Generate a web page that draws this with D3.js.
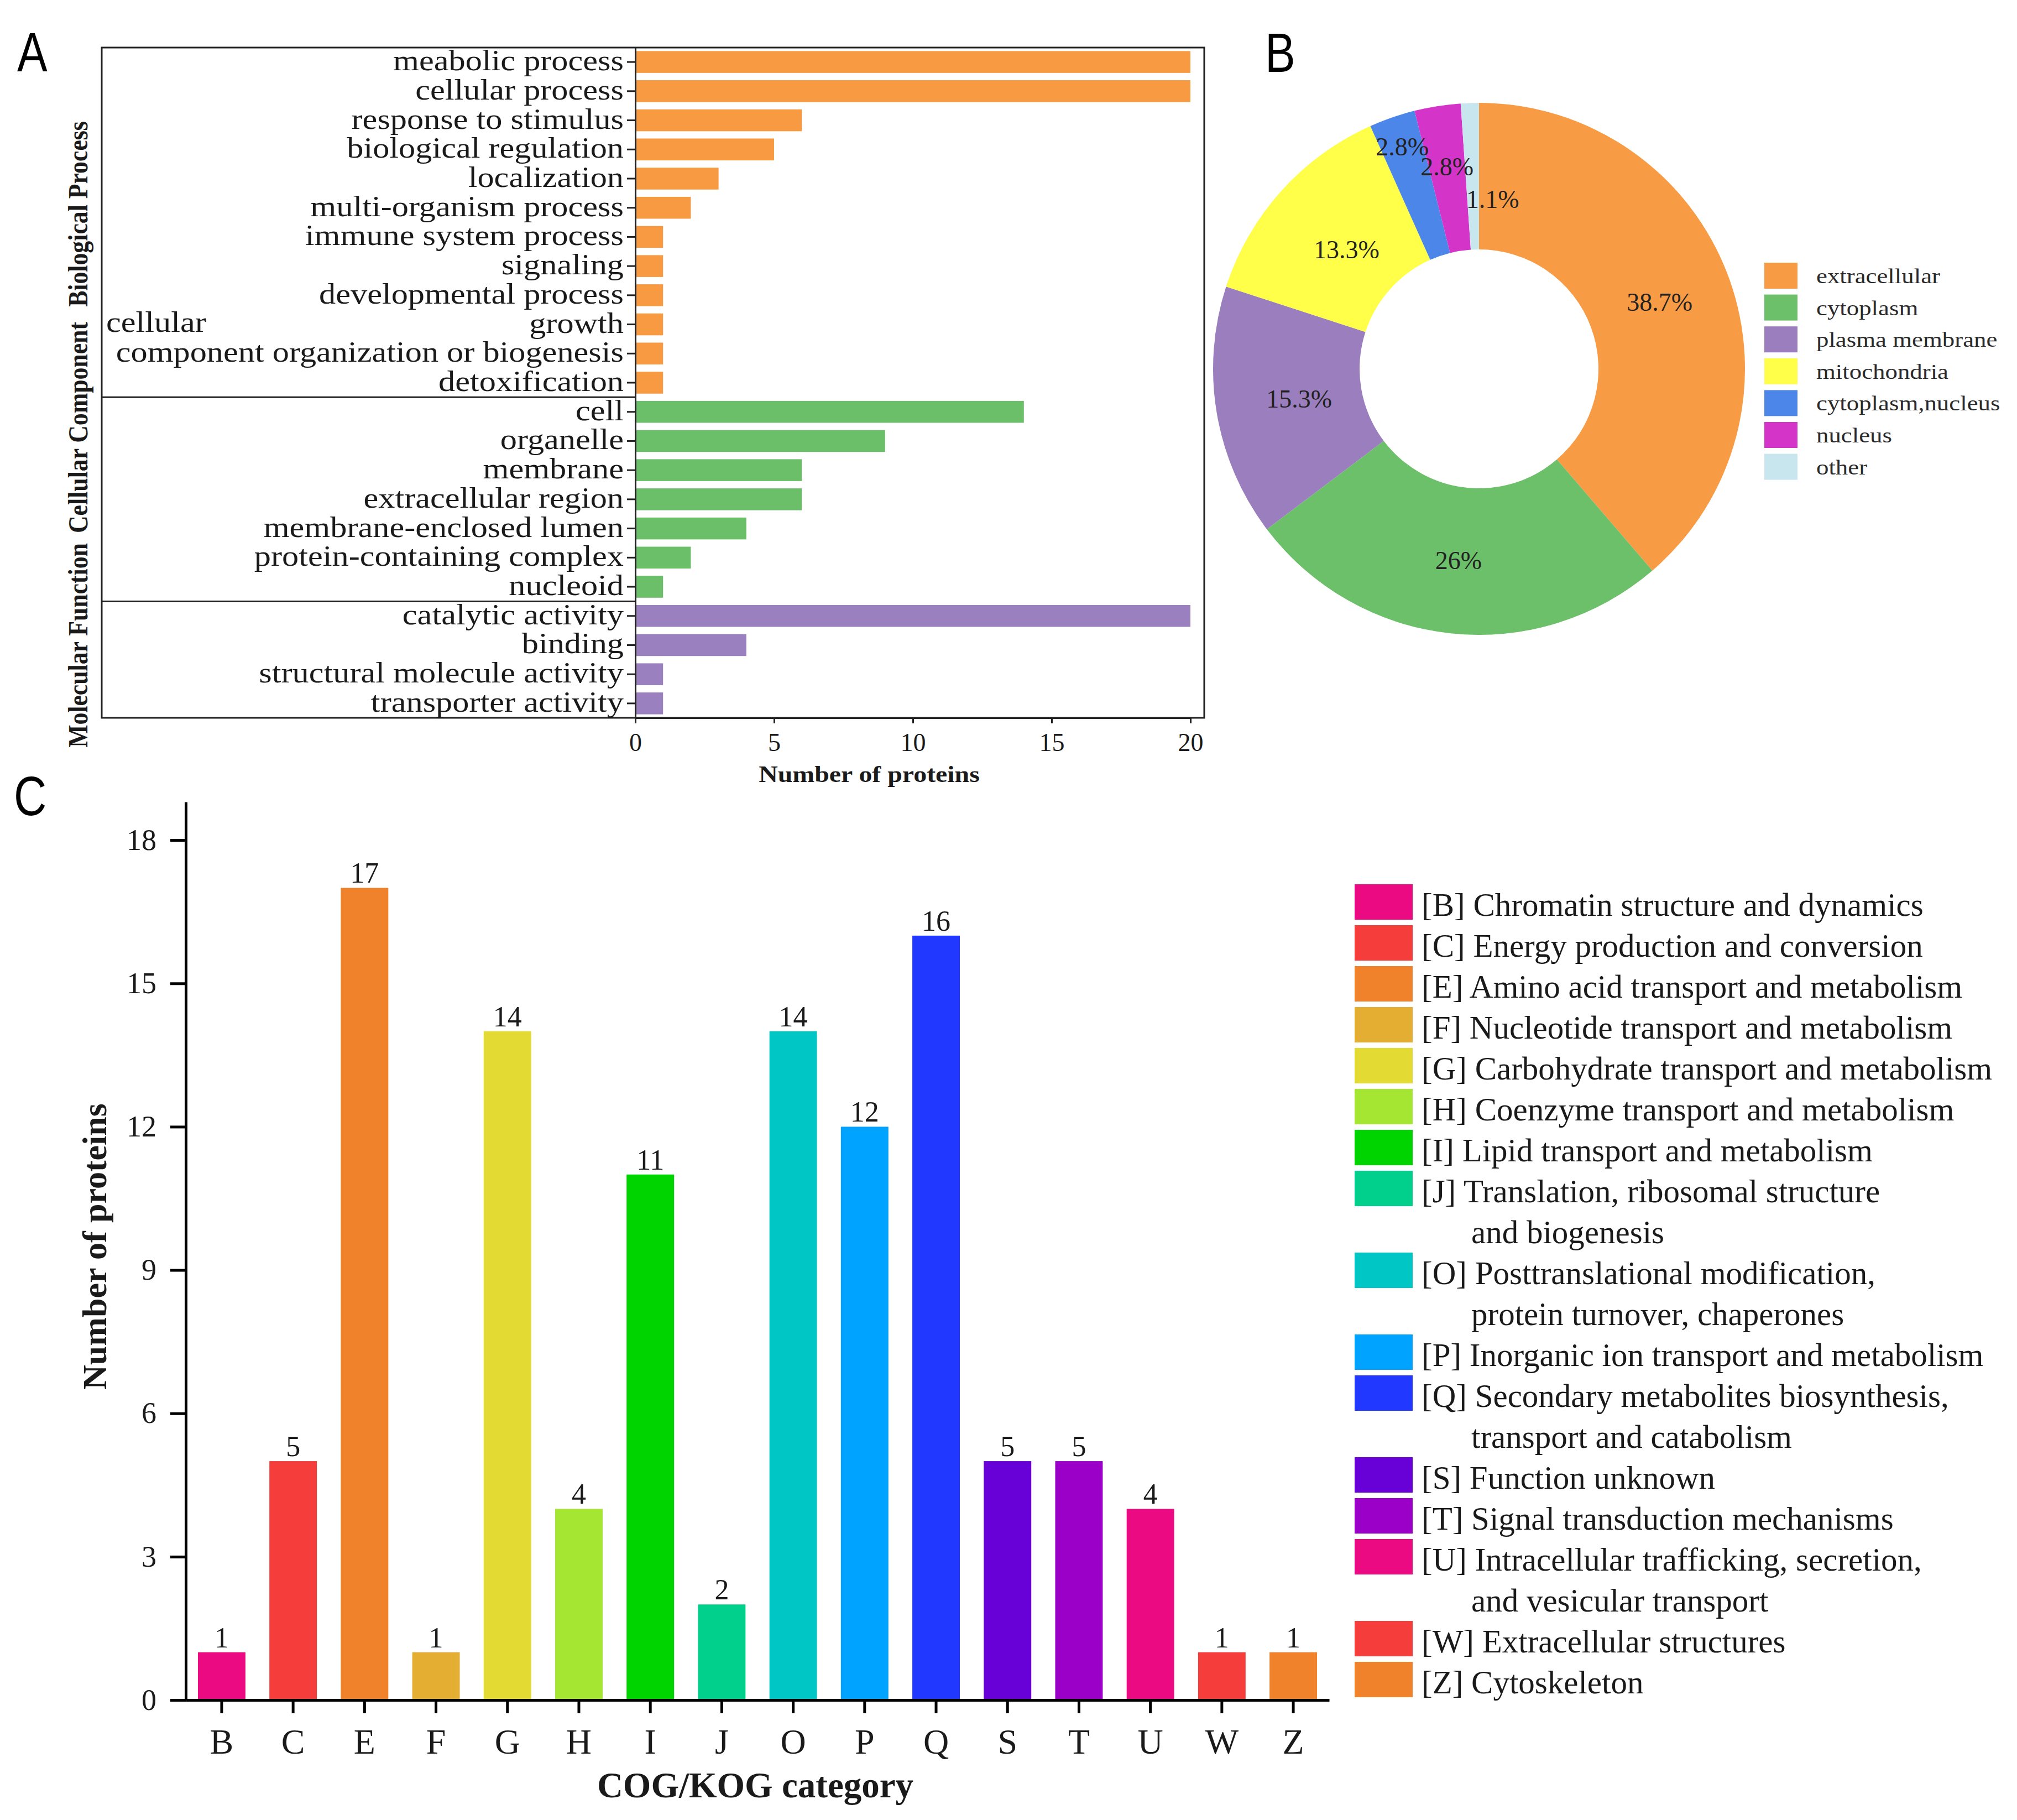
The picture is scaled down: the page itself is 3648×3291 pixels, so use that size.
<!DOCTYPE html>
<html><head><meta charset="utf-8">
<script src="https://cdn.jsdelivr.net/npm/d3@7"></script>
<style>html,body{margin:0;padding:0;background:#fff;} svg{display:block;}</style>
</head><body>
<svg id="chart" width="3648" height="3291"></svg>
<script>
// ---------- DATA ----------
const bpTerms = ["meabolic process","cellular process","response to stimulus","biological regulation","localization","multi-organism process","immune system process","signaling","developmental process","growth","cellular component organization or biogenesis","detoxification"];
const bpCounts = [20,20,6,5,3,2,1,1,1,1,1,1];
const ccTerms = ["cell","organelle","membrane","extracellular region","membrane-enclosed lumen","protein-containing complex","nucleoid"];
const ccCounts = [14,9,6,6,4,2,1];
const mfTerms = ["catalytic activity","binding","structural molecule activity","transporter activity"];
const mfCounts = [20,4,1,1];
const goGroupNames = ["Biological Process","Cellular Component","Molecular Function"];
const goXTicks = [0,5,10,15,20];

const locNames = ["extracellular","cytoplasm","plasma membrane","mitochondria","cytoplasm,nucleus","nucleus","other"];
const locPercents = [38.7,26,15.3,13.3,2.8,2.8,1.1];
const locLabels = ["38.7%","26%","15.3%","13.3%","2.8%","2.8%","1.1%"];

const cogCodes = ["B","C","E","F","G","H","I","J","O","P","Q","S","T","U","W","Z"];
const cogCounts = [1,5,17,1,14,4,11,2,14,12,16,5,5,4,1,1];
const cogNames = [
  ["[B] Chromatin structure and dynamics"],
  ["[C] Energy production and conversion"],
  ["[E] Amino acid transport and metabolism"],
  ["[F] Nucleotide transport and metabolism"],
  ["[G] Carbohydrate transport and metabolism"],
  ["[H] Coenzyme transport and metabolism"],
  ["[I] Lipid transport and metabolism"],
  ["[J] Translation, ribosomal structure","and biogenesis"],
  ["[O] Posttranslational modification,","protein turnover, chaperones"],
  ["[P] Inorganic ion transport and metabolism"],
  ["[Q] Secondary metabolites biosynthesis,","transport and catabolism"],
  ["[S] Function unknown"],
  ["[T] Signal transduction mechanisms"],
  ["[U] Intracellular trafficking, secretion,","and vesicular transport"],
  ["[W] Extracellular structures"],
  ["[Z] Cytoskeleton"]
];
const cogYTicks = [0,3,6,9,12,15,18];

// ---------- STYLES ----------
const goColors = ["#F89A42","#6BBF69","#9A80BF"];
const locColors = ["#F89B45","#6CC06A","#9B7EBE","#FFFF4A","#4C86E8","#D435C8","#C8E6EE"];
const cogColors = ["#EC0A82","#F53E3C","#EF822B","#E4AE33","#E4DA34","#A5E632","#00D400","#00D08C","#00C6C6","#00A3FF","#2038FF","#6800D8","#9A00C8","#EC0A82","#F53E3C","#EF822B"];
const SERIF = "'Liberation Serif','Times New Roman',serif";
const SANS = "'Liberation Sans',Arial,sans-serif";
const INK = "#1a1a1a";

// text drawn at (x,y), optionally rotated, horizontally scaled by k along its own direction
function sText(parent, x, y, str, k, rot){
  return parent.append("text")
    .attr("transform", `translate(${x},${y})` + (rot ? ` rotate(${rot})` : "") + ` scale(${k},1)`)
    .text(str);
}

const svg = d3.select("#chart");
svg.append("rect").attr("width",3648).attr("height",3291).attr("fill","#fff");

// ---------- panel letters ----------
const letters = svg.append("g").attr("font-family",SANS).attr("font-size",100).attr("fill","#000");
[["A",31,129],["B",2288,130],["C",25,1474]].forEach(([t,x,y])=>{ sText(letters,x,y,t,0.82); });

// ---------- PANEL A ----------
const goTerms = bpTerms.concat(ccTerms, mfTerms);
const goCounts = bpCounts.concat(ccCounts, mfCounts);
const goGroupIdx = bpTerms.map(()=>0).concat(ccTerms.map(()=>1), mfTerms.map(()=>2));
const A = {left:184, top:86, right:2178, bottom:1298, axisX:1149};
const xA = d3.scaleLinear().domain([0,20]).range([A.axisX, 2153]);
const yA = d3.scaleBand().domain(goTerms).range([A.top, A.bottom]).paddingInner(0.25).paddingOuter(0.12);
const gA = svg.append("g");

gA.selectAll("rect.bar").data(goTerms).join("rect").attr("class","bar")
  .attr("x", xA(0)).attr("y", d=>yA(d))
  .attr("width", (d,i)=>xA(goCounts[i])-xA(0)).attr("height", yA.bandwidth())
  .attr("fill", (d,i)=>goColors[goGroupIdx[i]]);

gA.append("rect").attr("x",A.left).attr("y",A.top).attr("width",A.right-A.left).attr("height",A.bottom-A.top)
  .attr("fill","none").attr("stroke","#222").attr("stroke-width",3);

const halfGap = yA.step()*yA.paddingInner()/2;
[ccTerms[0], mfTerms[0]].forEach(t=>{
  const y = yA(t) - halfGap;
  gA.append("line").attr("x1",A.left).attr("x2",A.axisX).attr("y1",y).attr("y2",y).attr("stroke","#222").attr("stroke-width",3);
});

const yAxA = gA.append("g").attr("transform",`translate(${A.axisX},0)`)
  .call(d3.axisLeft(yA).tickSize(15).tickSizeOuter(0).tickFormat(""));
yAxA.selectAll("path,line").attr("stroke","#222").attr("stroke-width",3);
yAxA.selectAll("text").remove();

const labA = gA.append("g").attr("font-family",SERIF).attr("font-size",52).attr("fill",INK);
goTerms.forEach(t=>{
  const cy = yA(t) + yA.bandwidth()/2;
  if (t === "cellular component organization or biogenesis"){
    sText(labA, A.left+8, cy-39, "cellular", 1.16);
    sText(labA, A.axisX-21, cy+15, "component organization or biogenesis", 1.16).attr("text-anchor","end");
  } else {
    sText(labA, A.axisX-21, cy+15, t, 1.16).attr("text-anchor","end");
  }
});

const xAxA = gA.append("g").attr("transform",`translate(0,${A.bottom})`)
  .call(d3.axisBottom(xA).tickValues(goXTicks).tickSize(10).tickSizeOuter(0).tickPadding(17));
xAxA.selectAll("path,line").attr("stroke","#222").attr("stroke-width",3);
xAxA.selectAll("text").attr("font-family",SERIF).attr("font-size",46).attr("fill",INK);

sText(gA, 1572, 1414, "Number of proteins", 1.14)
  .attr("text-anchor","middle").attr("font-family",SERIF).attr("font-weight","bold").attr("font-size",42).attr("fill",INK);

const groupCenters = [387, 773, 1167];
goGroupNames.forEach((n,i)=>{
  sText(gA, 158, groupCenters[i], n, 0.875, -90).attr("text-anchor","middle")
    .attr("font-family",SERIF).attr("font-weight","bold").attr("font-size",50).attr("fill",INK);
});

// ---------- PANEL B ----------
const B = {cx:2675, cy:667, r0:216, r1:481};
const gB = svg.append("g").attr("transform",`translate(${B.cx},${B.cy})`);
const pieData = d3.pie().sort(null).value(d=>d)(locPercents);
const arcB = d3.arc().innerRadius(B.r0).outerRadius(B.r1);
gB.selectAll("path").data(pieData).join("path").attr("d",arcB).attr("fill",(d,i)=>locColors[i]);

const labelRadius = {"plasma membrane":330, "mitochondria":322, "cytoplasm,nucleus":425, "nucleus":370, "other":308};
const labelAngleShift = {"other":0.115};
pieData.forEach((d,i)=>{
  const name = locNames[i];
  const r = labelRadius[name] || (B.r0+B.r1)/2;
  const a = (d.startAngle+d.endAngle)/2 + (labelAngleShift[name]||0);
  gB.append("text").attr("x", r*Math.sin(a)).attr("y", -r*Math.cos(a)).attr("dy","0.34em")
    .attr("text-anchor","middle").attr("font-family",SERIF).attr("font-size",46).attr("fill","#222")
    .text(locLabels[i]);
});

const legB = svg.append("g").attr("font-family",SERIF).attr("font-size",38).attr("fill","#2a2a2a");
const legBY = d3.scaleBand().domain(locNames).range([475, 475+57.6*locNames.length]).padding(0);
locNames.forEach((n,i)=>{
  const y = legBY(n);
  legB.append("rect").attr("x",3191).attr("y",y).attr("width",60).attr("height",47).attr("fill",locColors[i]);
  sText(legB, 3285, y+37, n, 1.18);
});

// ---------- PANEL C ----------
const C = {left:336, right:2404, base:3074, top:1450};
const xC = d3.scaleBand().domain(cogCodes).range([C.left, C.right]).paddingInner(0.335).paddingOuter(0.17);
const yC = d3.scaleLinear().domain([0,18.8]).range([C.base, C.top]);
const gC = svg.append("g");

gC.selectAll("rect.bar").data(cogCodes).join("rect").attr("class","bar")
  .attr("x", d=>xC(d)).attr("width", xC.bandwidth())
  .attr("y", (d,i)=>yC(cogCounts[i])).attr("height", (d,i)=>yC(0)-yC(cogCounts[i]))
  .attr("fill", (d,i)=>cogColors[i]);

gC.selectAll("text.val").data(cogCodes).join("text").attr("class","val")
  .attr("x", d=>xC(d)+xC.bandwidth()/2).attr("y", (d,i)=>yC(cogCounts[i])-9)
  .attr("text-anchor","middle").attr("font-family",SERIF).attr("font-size",52).attr("fill",INK)
  .text((d,i)=>cogCounts[i]);

const yAxC = gC.append("g").attr("transform",`translate(${C.left},0)`)
  .call(d3.axisLeft(yC).tickValues(cogYTicks).tickSize(28).tickSizeOuter(0).tickPadding(25));
yAxC.selectAll("path,line").attr("stroke","#000").attr("stroke-width",5);
yAxC.selectAll("text").attr("font-family",SERIF).attr("font-size",54).attr("fill",INK);

const xAxC = gC.append("g").attr("transform",`translate(0,${C.base})`)
  .call(d3.axisBottom(xC).tickSize(24).tickSizeOuter(0).tickPadding(28));
xAxC.selectAll("path,line").attr("stroke","#000").attr("stroke-width",5);
xAxC.selectAll("text").attr("font-family",SERIF).attr("font-size",64).attr("fill",INK);

gC.append("text").attr("transform","translate(192,2254) rotate(-90)").attr("text-anchor","middle")
  .attr("font-family",SERIF).attr("font-weight","bold").attr("font-size",62).attr("fill",INK)
  .text("Number of proteins");

gC.append("text").attr("x",1366).attr("y",3250).attr("text-anchor","middle")
  .attr("font-family",SERIF).attr("font-weight","bold").attr("font-size",65).attr("fill",INK)
  .text("COG/KOG category");

// legend C
const legC = svg.append("g").attr("font-family",SERIF).attr("font-size",59).attr("fill",INK);
let line = 0;
cogNames.forEach((lines,i)=>{
  const base = 1656 + 74*line;
  legC.append("rect").attr("x",2450).attr("y",base-57).attr("width",105).attr("height",64).attr("fill",cogColors[i]);
  lines.forEach((t,k)=>{
    legC.append("text").attr("x", k===0 ? 2571 : 2661).attr("y", base+74*k).text(t);
  });
  line += lines.length;
});
</script>
</body></html>
